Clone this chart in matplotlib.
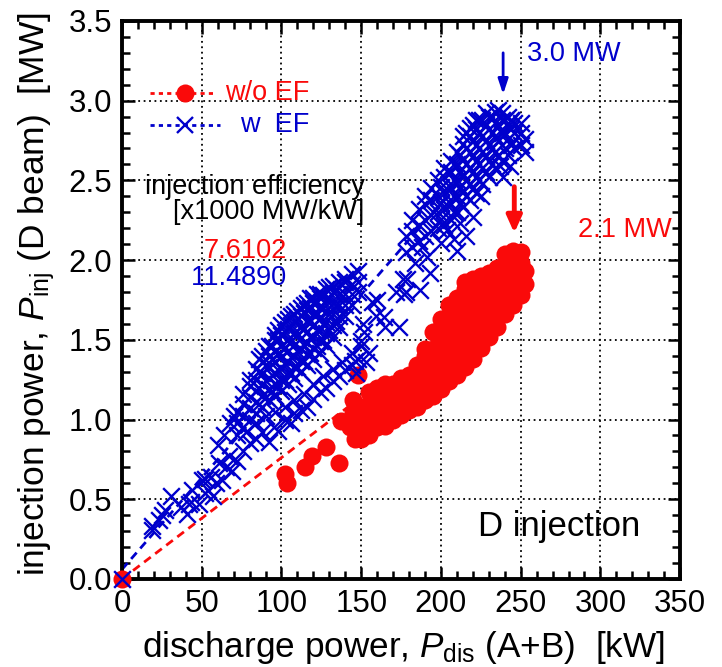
import matplotlib
matplotlib.use("Agg")
import matplotlib.pyplot as plt
from matplotlib.ticker import MultipleLocator

plt.rcParams['font.family'] = ['Liberation Sans', 'DejaVu Sans']
plt.rcParams['mathtext.fontset'] = 'custom'
plt.rcParams['mathtext.rm'] = 'Liberation Sans'
plt.rcParams['mathtext.it'] = 'Liberation Sans:italic'

RED = '#fa0a0a'
BLUE = '#0000cc'

# ---------------- data ----------------
# w/o EF (red circles): discharge power [kW], injection power [MW]
wo_x = [0,
        102, 103.5, 114.5, 119, 128, 136, 137.5, 144.7, 146, 148, 143, 145,
        150, 150, 150,
        155, 155, 155, 155,
        160, 160, 160, 160,
        165, 165, 165, 165,
        170, 170, 170, 170,
        175, 175, 175, 175,
        180, 180, 180, 180,
        185, 185, 185, 185,
        190, 190, 190, 190, 190,
        195, 195, 195, 195, 195,
        200, 200, 200, 200, 200, 200,
        205, 205, 205, 205, 205, 205,
        210, 210, 210, 210, 210, 210,
        215, 215, 215, 215, 215, 215, 215,
        220, 220, 220, 220, 220, 220,
        225, 225, 225, 225, 225, 225,
        230, 230, 230, 230, 230,
        235, 235, 235, 235, 235,
        240, 240, 240, 240, 240,
        245, 245, 245, 245, 245,
        250, 250, 250, 250,
        253, 253]
wo_y = [0,
        0.66, 0.60, 0.70, 0.77, 0.83, 0.73, 0.99, 1.12, 0.88, 1.28, 0.95, 1.05,
        0.88, 0.98, 1.08,
        0.90, 1.00, 1.10, 1.17,
        0.95, 1.05, 1.15, 1.20,
        0.96, 1.05, 1.14, 1.22,
        1.00, 1.08, 1.16, 1.22,
        1.03, 1.12, 1.20, 1.26,
        1.06, 1.15, 1.22, 1.28,
        1.08, 1.16, 1.25, 1.34,
        1.12, 1.20, 1.30, 1.40, 1.44,
        1.15, 1.24, 1.34, 1.44, 1.55,
        1.19, 1.28, 1.38, 1.48, 1.58, 1.63,
        1.24, 1.32, 1.42, 1.52, 1.62, 1.72,
        1.28, 1.36, 1.46, 1.56, 1.66, 1.76,
        1.33, 1.42, 1.52, 1.62, 1.72, 1.82, 1.86,
        1.38, 1.48, 1.58, 1.68, 1.78, 1.88,
        1.45, 1.55, 1.65, 1.75, 1.85, 1.90,
        1.52, 1.62, 1.72, 1.82, 1.92,
        1.58, 1.68, 1.78, 1.88, 1.95,
        1.66, 1.76, 1.86, 1.96, 2.04,
        1.72, 1.82, 1.92, 2.02, 2.06,
        1.78, 1.88, 1.98, 2.05,
        1.85, 1.93]

# w EF (blue crosses)
w_x = [0,
       # low tail
       19, 23, 19, 25, 27, 31, 37, 41, 42, 43, 44, 48, 50, 52, 52, 54, 56, 57,
       59, 61, 63, 65, 67, 69,
       # fringe below the core
       72, 76, 80, 84, 88, 92, 95, 98, 102, 106, 108, 112, 116, 120, 124, 128,
       132, 136, 140, 144, 148,
       78, 84, 90, 96, 102, 108, 114, 120, 126, 132, 138, 144, 150,
       # upper-left edge of core
       60, 64, 68, 70,
       # dense core
       72, 72, 72,
       76, 76, 76, 76,
       80, 80, 80, 80, 80,
       84, 84, 84, 84, 84,
       88, 88, 88, 88, 88, 88,
       92, 92, 92, 92, 92, 92,
       96, 96, 96, 96, 96, 96, 96,
       100, 100, 100, 100, 100, 100, 100,
       104, 104, 104, 104, 104, 104, 104,
       108, 108, 108, 108, 108, 108, 108,
       112, 112, 112, 112, 112, 112, 112,
       116, 116, 116, 116, 116, 116, 116,
       120, 120, 120, 120, 120, 120, 120,
       124, 124, 124, 124, 124, 124, 124,
       128, 128, 128, 128, 128, 128,
       132, 132, 132, 132, 132, 132,
       136, 136, 136, 136, 136,
       140, 140, 140, 140, 140,
       144, 144, 144, 144,
       148, 148, 148,
       86, 86, 86, 86,
       90, 90, 90, 90,
       94, 94, 94, 94,
       98, 98, 98, 98, 98,
       102, 102, 102, 102, 102,
       106, 106, 106, 106, 106,
       110, 110, 110, 110, 110,
       114, 114, 114, 114, 114,
       118, 118, 118, 118, 118,
       122, 122, 122, 122, 122,
       126, 126, 126, 126,
       130, 130, 130, 130,
       134, 134, 134,
       # gap region
       147, 150, 152, 153, 155, 157, 159, 160, 164, 165, 172, 174, 176, 177,
       178, 179, 184, 187, 188, 191, 193, 146, 151,
       # upper cluster
       178, 178,
       182, 182, 182,
       186, 186, 186,
       190, 190, 190, 190,
       194, 194, 194, 194,
       198, 198, 198, 198,
       202, 202, 202, 202, 202,
       206, 206, 206, 206, 206,
       210, 210, 210, 210, 210,
       214, 214, 214, 214, 214, 214,
       218, 218, 218, 218, 218, 218,
       222, 222, 222, 222, 222, 222,
       226, 226, 226, 226, 226,
       230, 230, 230, 230, 230,
       234, 234, 234, 234, 234,
       238, 238, 238, 238, 238,
       242, 242, 242, 242,
       246, 246, 246,
       250, 250, 250,
       253, 253,
       200, 200, 200,
       208, 208, 208, 208,
       212, 212, 212, 212,
       216, 216, 216, 216, 216,
       220, 220, 220, 220, 220,
       224, 224, 224, 224, 224,
       228, 228, 228, 228, 228,
       232, 232, 232, 232,
       236, 236, 236, 236,
       240, 240, 240,
       244, 244, 244,
       # sparse points below the upper cluster
       200, 204, 208, 210, 212, 216, 220, 225, 237, 239, 243]
w_y = [0,
       0.31, 0.37, 0.33, 0.40, 0.43, 0.52, 0.45, 0.41, 0.47, 0.48, 0.56, 0.47,
       0.62, 0.54, 0.63, 0.56, 0.64, 0.52, 0.60, 0.73, 0.62, 0.70, 0.77, 0.68,
       0.74, 0.80, 0.85, 0.88, 0.92, 0.86, 0.95, 0.93, 1.00, 0.98, 1.04, 1.06,
       1.08, 1.13, 1.17, 1.20, 1.24, 1.27, 1.31, 1.34, 1.38,
       0.92, 0.98, 1.02, 1.05, 1.08, 1.12, 1.16, 1.22, 1.27, 1.32, 1.36, 1.42,
       1.46,
       0.84, 0.90, 0.98, 1.02,
       0.90, 0.98, 1.05,
       0.95, 1.02, 1.10, 1.16,
       1.00, 1.07, 1.14, 1.21, 1.25,
       1.04, 1.11, 1.18, 1.25, 1.32,
       1.08, 1.15, 1.22, 1.29, 1.36, 1.40,
       1.12, 1.19, 1.26, 1.33, 1.40, 1.46,
       1.15, 1.22, 1.29, 1.36, 1.43, 1.50, 1.53,
       1.18, 1.25, 1.32, 1.39, 1.46, 1.53, 1.59,
       1.22, 1.29, 1.36, 1.43, 1.50, 1.57, 1.63,
       1.26, 1.33, 1.40, 1.47, 1.54, 1.61, 1.66,
       1.30, 1.37, 1.44, 1.51, 1.58, 1.65, 1.70,
       1.34, 1.41, 1.48, 1.55, 1.62, 1.69, 1.73,
       1.38, 1.45, 1.52, 1.59, 1.66, 1.73, 1.76,
       1.42, 1.49, 1.56, 1.63, 1.70, 1.76, 1.79,
       1.47, 1.54, 1.61, 1.68, 1.75, 1.82,
       1.52, 1.59, 1.66, 1.73, 1.80, 1.84,
       1.58, 1.65, 1.72, 1.79, 1.86,
       1.65, 1.72, 1.79, 1.86, 1.88,
       1.72, 1.79, 1.85, 1.91,
       1.80, 1.86, 1.93,
       1.10, 1.20, 1.30, 1.38,
       1.14, 1.24, 1.34, 1.43,
       1.18, 1.28, 1.38, 1.46,
       1.21, 1.31, 1.41, 1.50, 1.56,
       1.25, 1.35, 1.45, 1.55, 1.61,
       1.29, 1.39, 1.49, 1.59, 1.65,
       1.33, 1.43, 1.53, 1.63, 1.68,
       1.37, 1.47, 1.57, 1.67, 1.72,
       1.42, 1.52, 1.62, 1.70, 1.76,
       1.46, 1.56, 1.66, 1.74, 1.79,
       1.50, 1.60, 1.70, 1.78,
       1.56, 1.66, 1.76, 1.83,
       1.62, 1.72, 1.82,
       1.29, 1.49, 1.55, 1.36, 1.42, 1.74, 1.65, 1.75, 1.64, 1.58, 1.80, 1.58,
       1.88, 1.79, 1.80, 1.88, 1.98, 1.81, 2.08, 2.02, 1.92, 1.37, 1.60,
       2.05, 2.15,
       2.08, 2.18, 2.25,
       2.12, 2.22, 2.32,
       2.15, 2.25, 2.35, 2.40,
       2.18, 2.28, 2.38, 2.45,
       2.20, 2.30, 2.40, 2.50,
       2.22, 2.32, 2.42, 2.52, 2.58,
       2.25, 2.35, 2.45, 2.55, 2.62,
       2.30, 2.40, 2.50, 2.60, 2.68,
       2.33, 2.43, 2.53, 2.63, 2.73, 2.78,
       2.38, 2.48, 2.58, 2.68, 2.78, 2.83,
       2.42, 2.52, 2.62, 2.72, 2.82, 2.88,
       2.48, 2.58, 2.68, 2.78, 2.88,
       2.52, 2.62, 2.72, 2.82, 2.90,
       2.58, 2.68, 2.78, 2.86, 2.93,
       2.62, 2.72, 2.80, 2.88, 2.92,
       2.66, 2.76, 2.84, 2.90,
       2.70, 2.80, 2.86,
       2.72, 2.80, 2.86,
       2.68, 2.76,
       2.26, 2.36, 2.46,
       2.30, 2.40, 2.50, 2.60,
       2.36, 2.46, 2.56, 2.66,
       2.40, 2.50, 2.60, 2.70, 2.80,
       2.45, 2.55, 2.65, 2.75, 2.85,
       2.50, 2.60, 2.70, 2.80, 2.88,
       2.55, 2.65, 2.75, 2.85, 2.92,
       2.60, 2.70, 2.80, 2.90,
       2.65, 2.75, 2.85, 2.94,
       2.70, 2.80, 2.88,
       2.72, 2.82, 2.88,
       2.11, 2.19, 2.13, 2.06, 2.23, 2.15, 2.27, 2.40, 2.59, 2.52, 2.59]

# linear fits (injection efficiency, MW/kW) and x range of fit lines
fit_wo_slope, fit_wo_icpt = 7.6102e-3, 0.0
fit_w_slope, fit_w_icpt = 11.4890e-3, 0.06
fit_wo_x = [0, 165]
fit_w_x = [0, 250]

# ---------------- figure ----------------
fig = plt.figure(figsize=(7.22, 6.67), dpi=100)
ax = fig.add_axes([0.169, 0.132, 0.773, 0.8366])
ax.set_xlim(0, 350)
ax.set_ylim(0, 3.5)

ax.plot(fit_wo_x, [fit_wo_icpt + fit_wo_slope * v for v in fit_wo_x],
        ls=(0, (3, 2)), color=RED, lw=2, zorder=2)
ax.plot(fit_w_x, [fit_w_icpt + fit_w_slope * v for v in fit_w_x],
        ls=(0, (3, 2)), color=BLUE, lw=2, zorder=2)

ax.scatter(wo_x, wo_y, s=13**2, c=RED, marker='o', linewidths=0,
           zorder=3, clip_on=False)
ax.scatter(w_x, w_y, s=12**2, c=BLUE, marker='x', linewidths=1.7,
           zorder=4, clip_on=False)

# axes styling
ax.xaxis.set_major_locator(MultipleLocator(50))
ax.xaxis.set_minor_locator(MultipleLocator(10))
ax.yaxis.set_major_locator(MultipleLocator(0.5))
ax.yaxis.set_minor_locator(MultipleLocator(0.1))
ax.yaxis.set_major_formatter(plt.FormatStrFormatter('%.1f'))
ax.tick_params(which='both', direction='in', top=True, right=True,
               width=1.8, labelsize=22.5, colors='black')
ax.tick_params(which='major', length=9, pad=7)
ax.tick_params(which='minor', length=5.5)
for sp in ax.spines.values():
    sp.set_linewidth(2.8)
ax.grid(which='major', ls=(0, (1, 2)), color='black', lw=1.3)
ax.set_axisbelow(True)

ax.set_xlabel(r'discharge power, $\mathit{P}_{\rm dis}$ (A+B)  [kW]',
              fontsize=25.3)
ax.set_ylabel(r'injection power, $\mathit{P}_{\rm inj}$ (D beam)  [MW]',
              fontsize=25.5)
ax.xaxis.set_label_coords(0.505, -0.09)
ax.yaxis.set_label_coords(-0.117, 0.51)

# manual legend
ax.plot([0.05, 0.167], [0.871, 0.871], transform=ax.transAxes,
        ls=(0, (1.5, 1.5)), color=RED, lw=2)
ax.plot([0.113], [0.871], transform=ax.transAxes, marker='o', ms=13,
        color=RED, mec='none')
ax.text(0.335, 0.871, 'w/o EF', transform=ax.transAxes, color=RED,
        fontsize=19.5, ha='right', va='center')
ax.plot([0.05, 0.175], [0.814, 0.814], transform=ax.transAxes,
        ls=(0, (1.5, 1.5)), color=BLUE, lw=2)
ax.plot([0.113], [0.814], transform=ax.transAxes, marker='x', ms=12,
        color=BLUE, mew=1.7)
ax.text(0.335, 0.814, 'w  EF', transform=ax.transAxes, color=BLUE,
        fontsize=19.5, ha='right', va='center')

# annotations
ax.text(152, 2.46, 'injection efficiency', fontsize=19.5, ha='right',
        va='center', color='black')
ax.text(152, 2.30, '[x1000 MW/kW]', fontsize=19.5, ha='right', va='center',
        color='black')
ax.text(103.5, 2.06, '7.6102', fontsize=19.5, ha='right', va='center',
        color=RED)
ax.text(103.5, 1.89, '11.4890', fontsize=19.5, ha='right', va='center',
        color=BLUE)
ax.text(254, 3.29, '3.0 MW', fontsize=19.5, ha='left', va='center',
        color=BLUE)
ax.text(286, 2.19, '2.1 MW', fontsize=19.5, ha='left', va='center',
        color=RED)
ax.text(223, 0.33, 'D injection', fontsize=25, ha='left', va='center',
        color='black')

ax.annotate('', xy=(239, 3.04), xytext=(239, 3.30),
            arrowprops=dict(arrowstyle='-|>,head_length=0.9,head_width=0.3',
                            color=BLUE, lw=2, shrinkA=0, shrinkB=0))
ax.annotate('', xy=(246, 2.17), xytext=(246, 2.46),
            arrowprops=dict(arrowstyle='-|>,head_length=1.0,head_width=0.45',
                            color=RED, lw=3.5, shrinkA=0, shrinkB=0))

fig.savefig('out.png', dpi=100)
